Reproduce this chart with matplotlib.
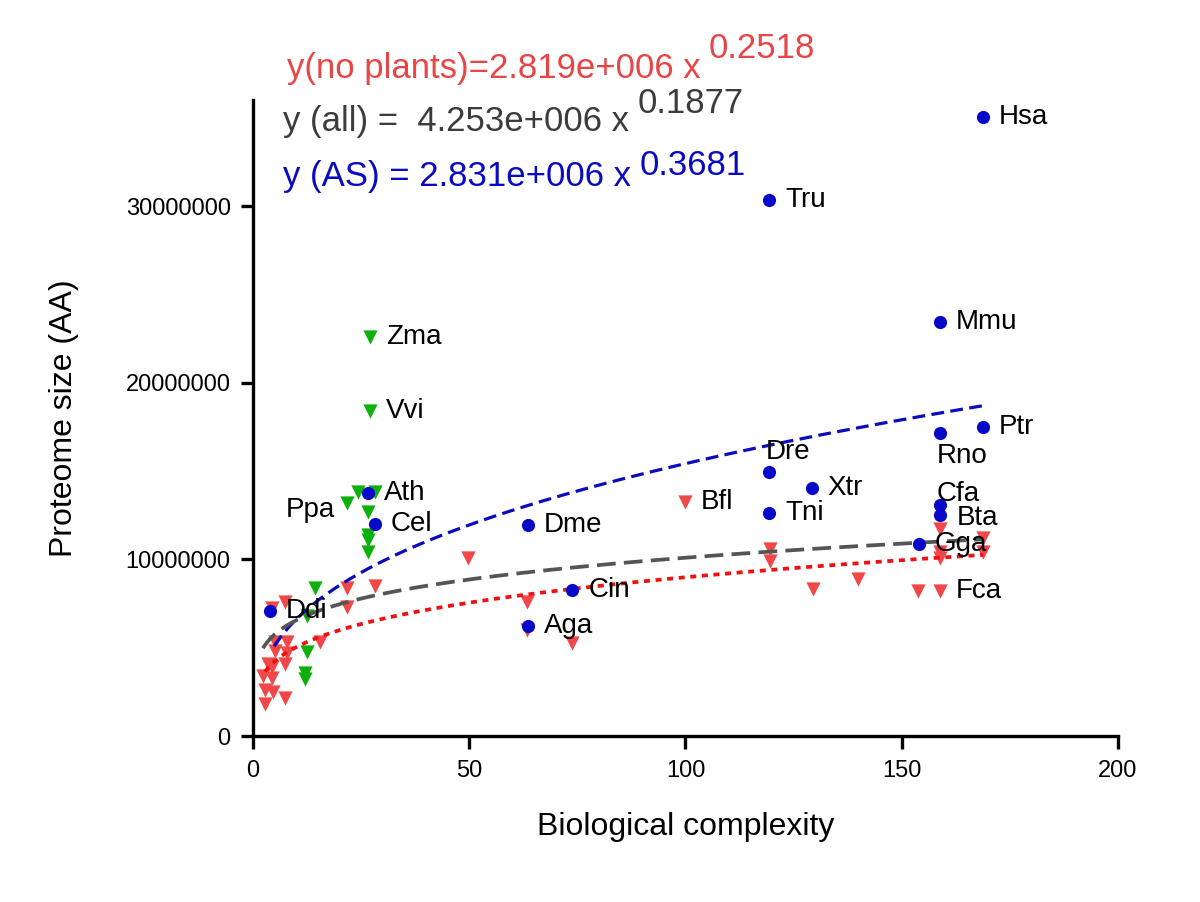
import matplotlib
matplotlib.use("Agg")
import matplotlib.pyplot as plt
import numpy as np

plt.rcParams['font.family'] = ['Liberation Sans', 'DejaVu Sans']

# blue circles: species with AS data
as_names = ['Hsa', 'Tru', 'Mmu', 'Ptr', 'Rno', 'Dre', 'Xtr', 'Tni', 'Cfa', 'Bta',
            'Gga', 'Dme', 'Cel', 'Ath', 'Cin', 'Aga', 'Ddi']
as_x = [168.8, 119.3, 158.8, 168.8, 158.8, 119.3, 129.2, 119.3, 158.8, 158.8,
        154.0, 63.6, 28.2, 26.6, 73.8, 63.6, 3.9]
as_y = [35.04e6, 30.34e6, 23.43e6, 17.49e6, 17.15e6, 14.94e6, 14.04e6, 12.62e6, 13.07e6, 12.51e6,
        10.87e6, 11.94e6, 12.0e6, 13.75e6, 8.26e6, 6.23e6, 7.08e6]

# green triangles: plants
plant_names = ['Zma', 'Vvi', '', '', 'Ppa', '', '', '', '', '', '', '', '', '']
plant_x = [27.1, 27.1, 24.3, 28.2, 21.7, 26.6, 26.6, 26.6, 26.6, 14.3, 12.5, 12.5, 12.0, 12.0]
plant_y = [22.6e6, 18.4e6, 13.8e6, 13.8e6, 13.2e6, 12.7e6, 11.4e6, 11.1e6, 10.4e6,
           8.4e6, 6.8e6, 4.75e6, 3.55e6, 3.25e6]

# red triangles: everything except plants
other_names = [''] * 23 + ['Bfl'] + [''] * 5 + ['Fca'] + [''] * 5
other_x = [4.4, 7.4, 21.7, 28.2, 21.7, 5.1, 5.1, 7.9, 7.9, 15.5, 3.5, 4.4, 7.4, 2.3,
           4.4, 2.8, 4.6, 2.8, 7.4, 49.7, 63.4, 63.4, 73.8, 99.9, 119.5, 119.5, 129.5,
           139.9, 153.8, 158.8, 158.8, 158.8, 158.8, 168.8, 168.8]
other_y = [7.25e6, 7.58e6, 8.4e6, 8.5e6, 7.3e6, 5.3e6, 4.8e6, 5.3e6, 4.7e6, 5.3e6,
           4.1e6, 3.9e6, 4.1e6, 3.4e6, 3.3e6, 2.6e6, 2.5e6, 1.8e6, 2.15e6, 10.1e6,
           7.58e6, 6.0e6, 5.26e6, 13.25e6, 10.6e6, 9.9e6, 8.3e6, 8.9e6, 8.2e6, 8.2e6,
           11.7e6, 10.4e6, 10.1e6, 11.2e6, 10.4e6]

# power-law fits printed on the chart
fit_as = (2.831e6, 0.3681)
fit_all = (4.253e6, 0.1877)
fit_noplants = (2.819e6, 0.2518)

# label offsets in pixels (dx, dy, ha)
label_offsets = {
    'Rno': (-3, -23, 'left'), 'Dre': (-3, 20, 'left'), 'Cfa': (-3, 11, 'left'),
    'Bta': (17, -3, 'left'), 'Ppa': (-12, -7, 'right'),
}

fig = plt.figure(figsize=(12, 9.02), dpi=100)
ax = fig.add_axes([0.2108, 0.184, 0.7208, 0.705])

ax.scatter(other_x, other_y, marker='v', s=105, color='#F04848', linewidths=0, zorder=2)
ax.scatter(plant_x, plant_y, marker='v', s=105, color='#0DB00D', linewidths=0, zorder=2)

xa = np.linspace(min(as_x) + 1, max(as_x), 200)
ax.plot(xa, fit_as[0] * xa ** fit_as[1], color='#0A0ABE', lw=2.3,
        dashes=(4, 2), zorder=3)
xall = np.linspace(min(other_x), max(other_x), 200)
ax.plot(xall, fit_all[0] * xall ** fit_all[1], color='#555555', lw=2.7,
        dashes=(5, 2.2), zorder=3)
xr = np.linspace(min(other_x) + 0.5, max(other_x), 200)
ax.plot(xr, fit_noplants[0] * xr ** fit_noplants[1], color='#EE1111', lw=2.7,
        dashes=(1.6, 1.5), zorder=3)

ax.scatter(as_x, as_y, marker='o', s=90, color='#0808C8', linewidths=0, zorder=4)


def put_labels(names, xs, ys):
    for name, x, y in zip(names, xs, ys):
        if not name:
            continue
        dx, dy, ha = label_offsets.get(name, (16, 0, 'left'))
        ax.annotate(name, (x, y), xytext=(dx, dy), textcoords='offset pixels',
                    ha=ha, va='center', fontsize=20, color='black', zorder=5)


put_labels(as_names, as_x, as_y)
put_labels(plant_names, plant_x, plant_y)
put_labels(other_names, other_x, other_y)

ax.set_xlim(0, 200)
ax.set_ylim(0, 36e6)
ax.set_xticks([0, 50, 100, 150, 200])
ax.set_yticks([0, 10000000, 20000000, 30000000])
ax.set_yticklabels(['0', '10000000', '20000000', '30000000'])
ax.tick_params(labelsize=17, length=9, width=2.4, direction='out')
ax.tick_params(axis='x', pad=8)
ax.tick_params(axis='y', pad=7)
for side in ['top', 'right']:
    ax.spines[side].set_visible(False)
for side in ['left', 'bottom']:
    ax.spines[side].set_linewidth(2.4)
ax.set_xlabel('Biological complexity', fontsize=23, labelpad=22)
ax.set_ylabel('Proteome size (AA)', fontsize=23, labelpad=34)

# equations
eqs = [
    ('y(no plants)=2.819e+006 x', '0.2518', '#E84646', 0.239, 0.9135, 0.9357),
    ('y (all) =  4.253e+006 x', '0.1877', '#3C3C3C', 0.236, 0.8548, 0.8747),
    ('y (AS) = 2.831e+006 x', '0.3681', '#0A0AC0', 0.236, 0.7938, 0.806),
]
for main, sup, col, x0, yb, ys in eqs:
    t = fig.text(x0, yb, main, fontsize=25, color=col, va='baseline', ha='left')
    fig.canvas.draw()
    bb = t.get_window_extent()
    fig.text((bb.x1 + 8) / fig.bbox.width, ys, sup, fontsize=25, color=col,
             va='baseline', ha='left')

fig.savefig('out.png', dpi=100)
